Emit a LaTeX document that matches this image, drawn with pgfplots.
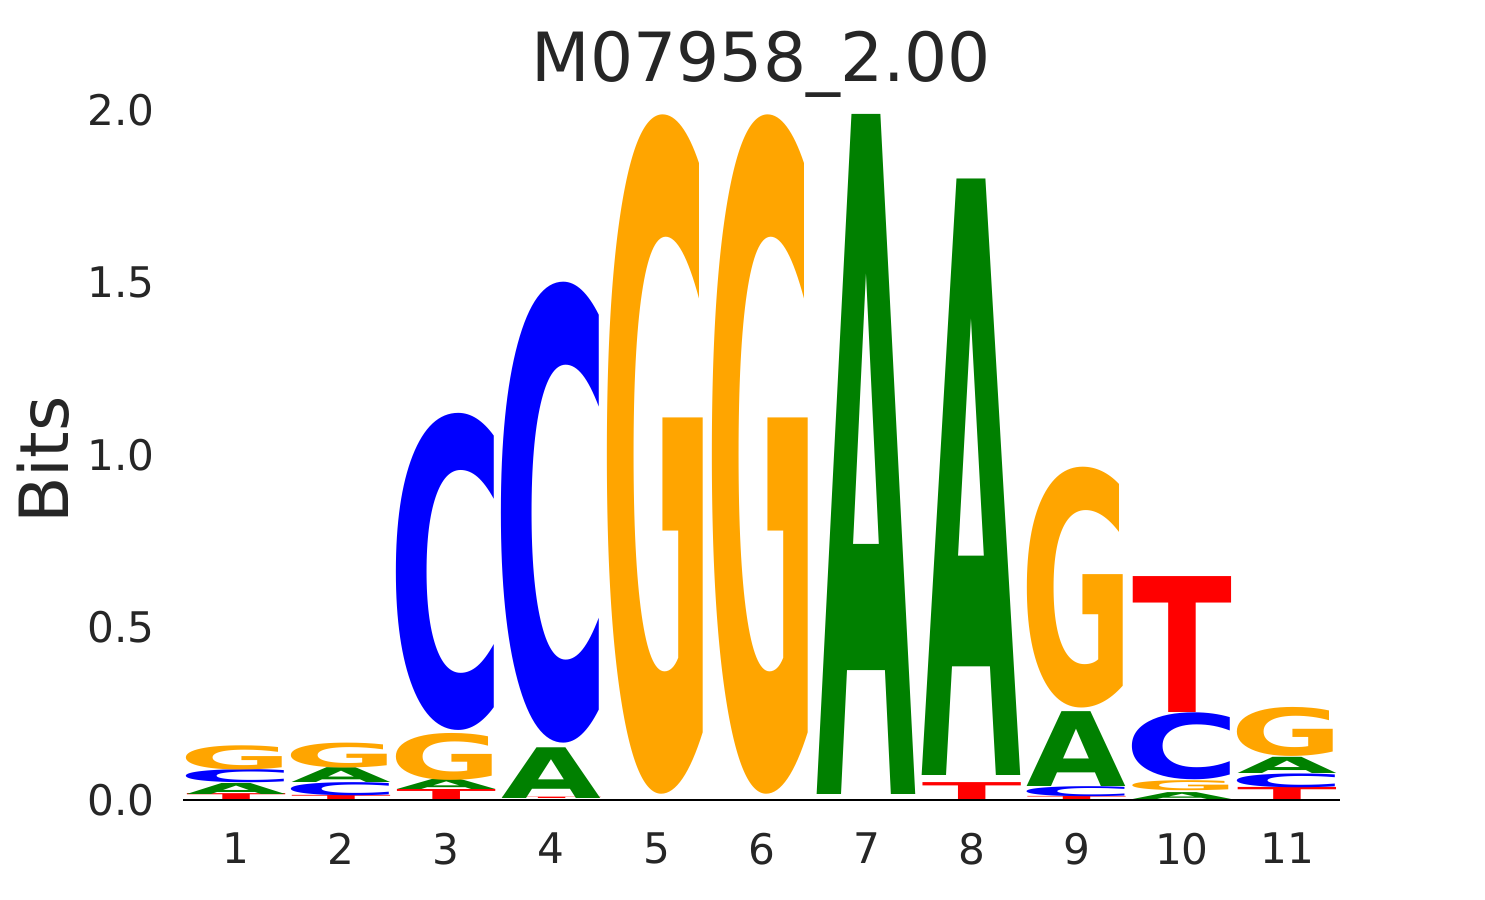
\documentclass[border=0pt]{standalone}
\usepackage{pgfplots}
\pgfplotsset{compat=1.18}
\usepackage{pgfplotstable}
\usepackage{graphicx}
\usepackage{fontspec}
\setmainfont{DejaVu Sans}
\definecolor{txt}{HTML}{262626}
\definecolor{colA}{HTML}{008000}
\definecolor{colC}{HTML}{0000FF}
\definecolor{colG}{HTML}{FFA500}
\definecolor{colT}{HTML}{FF0000}

% x = position, y = floor (bits), h = letter height (bits), w = width factor (ink/advance), l = letter
\pgfplotstableread{
x y h w l
1 0.000 0.017 1.00 T
1 0.017 0.032 1.00 A
1 0.049 0.038 1.16 C
1 0.087 0.070 1.13 G
2 0.000 0.012 1.00 T
2 0.012 0.038 1.16 C
2 0.050 0.043 1.00 A
2 0.093 0.072 1.13 G
3 0.000 0.029 1.00 T
3 0.029 0.029 1.00 A
3 0.058 0.136 1.13 G
3 0.203 0.919 1.16 C
4 0.000 0.004 1.00 T
4 0.004 0.147 1.00 A
4 0.165 1.336 1.16 C
5 0.017 1.969 1.13 G
6 0.017 1.969 1.13 G
7 0.017 1.969 1.00 A
8 0.000 0.049 1.00 T
8 0.070 1.727 1.00 A
9 0.000 0.009 1.00 T
9 0.009 0.029 1.16 C
9 0.038 0.217 1.00 A
9 0.267 0.698 1.13 G
10 0.000 0.020 1.00 A
10 0.026 0.029 1.13 G
10 0.058 0.194 1.16 C
10 0.255 0.394 1.00 T
11 0.000 0.035 1.00 T
11 0.035 0.040 1.16 C
11 0.078 0.047 1.00 A
11 0.125 0.142 1.13 G
}\logodata

\begin{document}
\begin{tikzpicture}
\useasboundingbox (-1.835cm,-1cm) rectangle (13.015cm,8cm);
\begin{axis}[
  at={(0,0)}, anchor=south west,
  x=1.051cm, y=3.45cm,
  xmin=0.5, xmax=11.5, ymin=0, ymax=2,
  clip=false,
  axis x line*=bottom, axis y line*=left,
  y axis line style={draw=none},
  x axis line style={black, line width=0.7pt, -},
  major tick length=0pt,
  xtick={1,2,3,4,5,6,7,8,9,10,11},
  ytick={0,0.5,1,1.5,2},
  /pgf/number format/assume math mode=true,
  yticklabel style={/pgf/number format/fixed, /pgf/number format/fixed zerofill, /pgf/number format/precision=1},
  tick label style={font=\fontsize{12}{14}\selectfont, text=txt},
  xticklabel style={inner sep=0pt, anchor=north, yshift=-0.32cm},
  yticklabel style={inner sep=0pt, anchor=east, xshift=-0.285cm},
  title={M07958\_2.00},
  title style={font=\fontsize{19.3}{22}\selectfont, text=txt, at={(axis description cs:0.5,1.0101)}, anchor=base, inner sep=0pt},
  ylabel={Bits},
  ylabel style={font=\fontsize{19.3}{22}\selectfont, text=txt, at={(axis description cs:-0.0999,0.4928)}, anchor=base, inner sep=0pt},
]
\addplot[draw=none, mark=none,
  point meta=explicit symbolic,
  visualization depends on={\thisrow{h} \as \lh},
  visualization depends on={\thisrow{w} \as \lw},
  nodes near coords={\pgfmathsetlengthmacro\hh{\lh*3.45cm}\pgfmathsetlengthmacro\ww{\lw*0.99845cm}\resizebox*{\ww}{\hh}{\color{col\pgfplotspointmeta}\bfseries\pgfplotspointmeta}},
  every node near coord/.append style={anchor=south, inner sep=0pt, outer sep=0pt},
] table[x=x, y=y, meta=l] {\logodata};
\end{axis}
\end{tikzpicture}
\end{document}
